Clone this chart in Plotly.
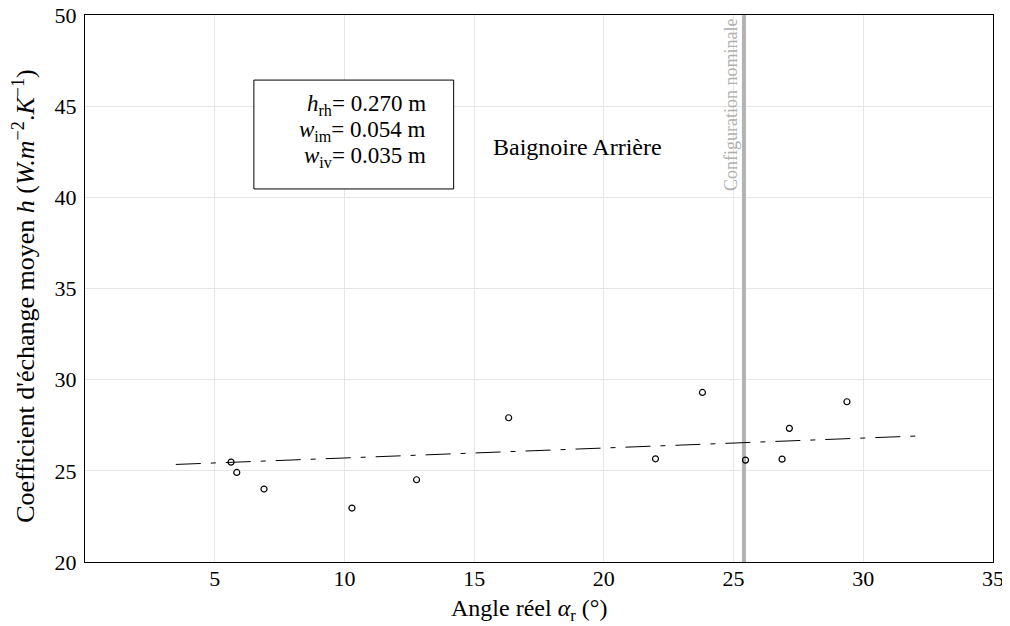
import plotly.graph_objects as go

# points mesures
angle = [5.63, 5.85, 6.9, 10.29, 12.78, 16.33, 21.99, 23.8, 25.46, 26.87, 27.15, 29.37]
coef_h = [25.48, 24.91, 24.0, 22.96, 24.51, 27.91, 25.66, 29.30, 25.59, 25.64, 27.33, 28.79]

# droite de tendance (extremites)
fit_x = [3.5, 32.06]
fit_y = [25.35, 26.91]

config_nominale = 25.4

x_ticks = [5, 10, 15, 20, 25, 30, 35]
y_ticks = [20, 25, 30, 35, 40, 45, 50]

params = [
    '<i>h</i><sub>rh</sub>= 0.270 m',
    '<i>w</i><sub>im</sub>= 0.054 m',
    '<i>w</i><sub>iv</sub>= 0.035 m',
]

serif = "Liberation Serif"

fig = go.Figure()

fig.add_trace(go.Scatter(
    x=[config_nominale, config_nominale], y=[20, 50],
    mode='lines', line=dict(color='#b3b3b3', width=4),
    showlegend=False, hoverinfo='skip'
))

fig.add_trace(go.Scatter(
    x=fit_x, y=fit_y, mode='lines',
    line=dict(color='black', width=1, dash='25px,10px,5px,10px'),
    showlegend=False
))

fig.add_trace(go.Scatter(
    x=angle, y=coef_h, mode='markers',
    marker=dict(symbol='circle-open', size=6, color='black', line=dict(width=1.2)),
    showlegend=False
))

fig.add_annotation(
    x=config_nominale, y=50, xref='x', yref='y',
    text='Configuration nominale', textangle=-90,
    xanchor='right', yanchor='top', xshift=-1, yshift=-2,
    showarrow=False, font=dict(family=serif, size=18, color='#b0b0b0')
)

# cadre des parametres
fig.add_shape(type='rect', xref='paper', yref='paper',
              x0=0.186, x1=0.406, y0=0.682, y1=0.881,
              line=dict(color='black', width=1), fillcolor='white')
for i, txt in enumerate(params):
    fig.add_annotation(
        x=0.378, y=0.835 - i * 0.047, xref='paper', yref='paper',
        text=txt, showarrow=False, xanchor='right', yanchor='middle',
        font=dict(family=serif, size=23, color='black')
    )

fig.add_annotation(
    x=0.542, y=0.786, xref='paper', yref='paper',
    text='Baignoire Arrière', showarrow=False,
    font=dict(family=serif, size=24, color='black')
)

# titres des axes
fig.add_annotation(
    x=0.489, y=-0.087, xref='paper', yref='paper',
    text='Angle réel <i>α</i><sub>r</sub> (°)', showarrow=False,
    xanchor='center', yanchor='middle',
    font=dict(family=serif, size=24, color='black')
)
fig.add_annotation(
    x=-0.067, y=0.487, xref='paper', yref='paper',
    text="Coefficient d'échange moyen <i>h</i> (<i>W.m</i><sup>−2</sup>.<i>K</i><sup>−1</sup>)",
    textangle=-90, showarrow=False, xanchor='center', yanchor='middle',
    font=dict(family=serif, size=26, color='black')
)

fig.update_xaxes(
    range=[0, 35], tickvals=x_ticks, automargin=False,
    showgrid=True, gridcolor='#e6e6e6', gridwidth=1,
    showline=True, linecolor='black', linewidth=1, mirror=True,
    zeroline=False, ticks='', ticklabelstandoff=-3,
    ticklabeloverflow='allow',
    tickfont=dict(family=serif, size=22, color='black'),
)

fig.update_yaxes(
    range=[20, 50], tickvals=y_ticks, automargin=False,
    showgrid=True, gridcolor='#e6e6e6', gridwidth=1,
    showline=True, linecolor='black', linewidth=1, mirror=True,
    zeroline=False, ticks='', ticklabelstandoff=3,
    ticklabeloverflow='allow',
    tickfont=dict(family=serif, size=22, color='black'),
)

# la page ajoute une marge de 8 px autour de la figure
fig.update_layout(
    width=1010, height=626,
    margin=dict(l=77, r=25, t=7, b=72),
    plot_bgcolor='white', paper_bgcolor='white'
)

fig.write_html("out.html")
